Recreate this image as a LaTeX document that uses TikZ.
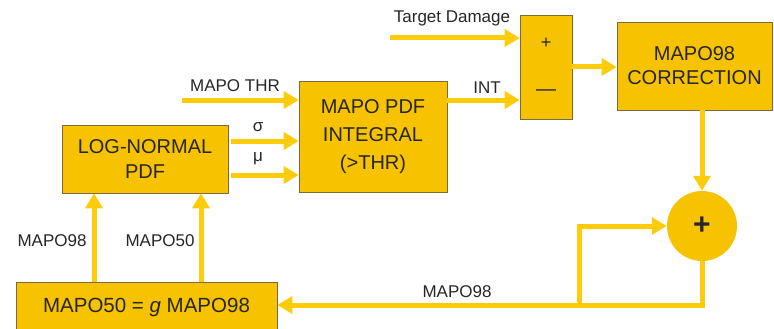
\documentclass[tikz,border=0pt]{standalone}
\usepackage{fontspec}
\setmainfont{Liberation Sans}
\usetikzlibrary{arrows.meta}
\definecolor{boxfill}{RGB}{247,194,0}
\definecolor{arrowc}{RGB}{255,204,12}
\definecolor{boxline}{RGB}{125,105,60}
\definecolor{textc}{RGB}{38,38,38}
\begin{document}
\begin{tikzpicture}[x=1pt,y=-1pt,
  block/.style={draw=boxline, line width=0.6pt, fill=boxfill, inner sep=0pt, align=center,
    font=\fontsize{20}{26}\selectfont, text=textc},
  flow/.style={draw=arrowc, line width=5pt, -{Triangle[length=15pt,width=17pt]}},
  plain/.style={draw=arrowc, line width=5pt},
  lbl/.style={font=\fontsize{17}{20}\selectfont, text=textc, inner sep=0pt}]
\useasboundingbox (0,0) rectangle (774,329);
% blocks
\node[block, minimum width=166pt, minimum height=68pt, font=\fontsize{20}{25}\selectfont] (lognormal) at (145,159) {LOG-NORMAL\\PDF};
\node[block, minimum width=148pt, minimum height=111pt, font=\fontsize{20}{28}\selectfont] (integral) at (373,136.5) {MAPO PDF\\INTEGRAL\\(>THR)};
\node[block, minimum width=52pt, minimum height=104pt] (sum) at (546,67) {};
\node[font=\fontsize{18}{20}\selectfont, text=textc, inner sep=0pt] (plus) at (546,43) {+};
\node[font=\fontsize{20}{20}\selectfont, text=textc, inner sep=0pt] (minus) at (546,93) {—};
\node[block, minimum width=155pt, minimum height=88pt, font=\fontsize{20}{24}\selectfont] (corr) at (694.5,66) {MAPO98\\CORRECTION};
\node[circle, fill=boxfill, minimum size=70pt, inner sep=0pt, font=\fontsize{30}{30}\selectfont\bfseries, text=textc] (circ) at (702,226) {+};
\node[block, minimum width=261pt, minimum height=50pt, font=\fontsize{20.5}{24}\selectfont] (gbox) at (146.5,307) {MAPO50 = \textit{g} MAPO98};
% coordinates
\coordinate (td) at (390,38);
\coordinate (thr) at (182,100);
\coordinate (sg) at (231,141);
\coordinate (mu) at (231,175);
\coordinate (bl) at (702,305);
\coordinate (br) at (579,305);
\coordinate (u1) at (94,0);
\coordinate (u2) at (201,0);
% connectors
\draw[flow] (td) -- (td -| sum.west);
\draw[flow] (thr) -- (thr -| integral.west);
\draw[flow] (sg) -- (sg -| integral.west);
\draw[flow] (mu) -- (mu -| integral.west);
\draw[flow] (integral.east |- thr) -- (sum.west |- thr);
\draw[flow] (sum.east) -- (sum.east -| corr.west);
\draw[flow] (circ.north |- corr.south) -- (circ.north);
\draw[flow] (circ.south) -- (bl) -- (bl -| gbox.east);
\draw[flow] (br) -- (br |- circ.west) -- (circ.west);
\draw[flow] (u1 |- gbox.north) -- (u1 |- lognormal.south);
\draw[flow] (u2 |- gbox.north) -- (u2 |- lognormal.south);
% labels
\node[lbl] (ltd) at (452,18) {Target Damage};
\node[lbl] (lthr) at (235,86) {MAPO THR};
\node[lbl] (lsg) at (258,127) {σ};
\node[lbl] (lmu) at (258,159) {μ};
\node[lbl] (lint) at (487,88) {INT};
\node[lbl] (l98a) at (52,241) {MAPO98};
\node[lbl] (l50) at (160,241) {MAPO50};
\node[lbl] (l98b) at (457,292) {MAPO98};
\end{tikzpicture}
\end{document}
